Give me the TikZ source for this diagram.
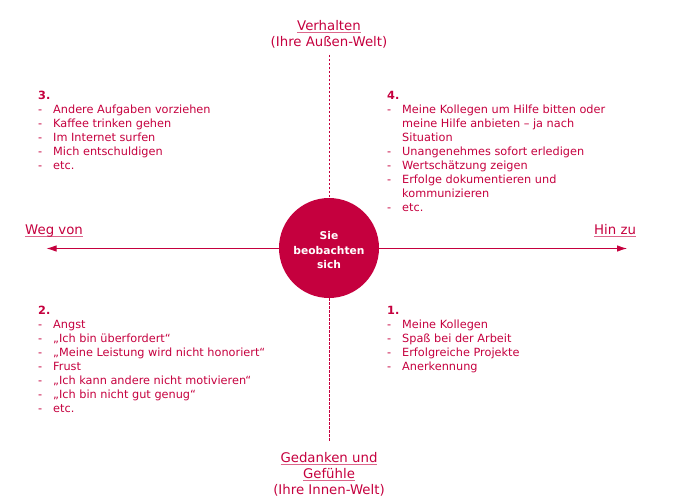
\documentclass[tikz,border=0pt]{standalone}
\usepackage{fontspec}
\setmainfont{DejaVu Sans}
\usetikzlibrary{arrows.meta}
\definecolor{crim}{RGB}{197,0,62}
\newcommand\ulx[1]{\setbox0\hbox{#1}\rlap{\color{crim!60}\rule[-2.2bp]{\wd0}{0.9bp}}\box0}
\newcommand\itm[1]{\makebox[15bp][l]{-}#1}
\newcommand\indt[1]{\hspace*{15bp}#1}
\newcommand\bodyfont{\fontsize{11.3bp}{14bp}\selectfont}
\newcommand\headfont{\fontsize{13.3bp}{16bp}\selectfont}
\tikzset{
  quad/.style={anchor=base west, font=\bodyfont, inner sep=0pt, text=crim},
  head/.style={anchor=base, font=\headfont, inner sep=0pt, text=crim},
  axisline/.style={draw=crim, line width=0.8bp},
  dashline/.style={draw=crim, line width=0.9bp, dash pattern=on 2.5bp off 1.5bp},
  tip/.style={-{Latex[length=10bp,width=6.5bp]}},
}
\begin{document}
\begin{tikzpicture}[x=1bp,y=-1bp]
\useasboundingbox (0,0) rectangle (688,504);
% centre
\node[circle, fill=crim, minimum size=100bp, inner sep=0pt] (c) at (329,248) {};
\node[align=center, text=white, inner sep=0pt,
      font=\fontsize{10.7bp}{14.5bp}\selectfont\bfseries] (ct) at (329,250.5) {Sie\\beobachten\\sich};
% axes
\coordinate (vt) at (329,55);
\coordinate (vb) at (329,442);
\coordinate (hl) at (46.5,248.5);
\coordinate (hr) at (627,248.5);
\draw[dashline] (vt) -- (c.north);
\draw[dashline] (c.south) -- (vb);
\draw[axisline, tip, fill=crim] (c.west |- hl) -- (hl);
\draw[axisline, tip, fill=crim] (c.east |- hr) -- (hr);
% headings
\node[head] (top) at (329,30.7) {\begin{tabular}[t]{@{}c@{}}\ulx{Verhalten}\\(Ihre Außen-Welt)\end{tabular}};
\node[head] (bot) at (329,462.7) {\begin{tabular}[t]{@{}c@{}}\ulx{Gedanken und}\\\ulx{Gefühle}\\(Ihre Innen-Welt)\end{tabular}};
\node[quad, font=\headfont] (weg) at (25,235) {\ulx{Weg von}};
\node[quad, font=\headfont] (hin) at (594,235) {\ulx{Hin zu}};
% quadrants
\node[quad] (q3) at (38,99.5) {\begin{tabular}[t]{@{}l@{}}
\textbf{3.}\\
\itm{Andere Aufgaben vorziehen}\\
\itm{Kaffee trinken gehen}\\
\itm{Im Internet surfen}\\
\itm{Mich entschuldigen}\\
\itm{etc.}
\end{tabular}};
\node[quad] (q4) at (387,99.5) {\begin{tabular}[t]{@{}l@{}}
\textbf{4.}\\
\itm{Meine Kollegen um Hilfe bitten oder}\\
\indt{meine Hilfe anbieten – ja nach}\\
\indt{Situation}\\
\itm{Unangenehmes sofort erledigen}\\
\itm{Wertschätzung zeigen}\\
\itm{Erfolge dokumentieren und}\\
\indt{kommunizieren}\\
\itm{etc.}
\end{tabular}};
\node[quad] (q2) at (38,314.7) {\begin{tabular}[t]{@{}l@{}}
\textbf{2.}\\
\itm{Angst}\\
\itm{„Ich bin überfordert“}\\
\itm{„Meine Leistung wird nicht honoriert“}\\
\itm{Frust}\\
\itm{„Ich kann andere nicht motivieren“}\\
\itm{„Ich bin nicht gut genug“}\\
\itm{etc.}
\end{tabular}};
\node[quad] (q1) at (387,314.7) {\begin{tabular}[t]{@{}l@{}}
\textbf{1.}\\
\itm{Meine Kollegen}\\
\itm{Spaß bei der Arbeit}\\
\itm{Erfolgreiche Projekte}\\
\itm{Anerkennung}
\end{tabular}};
\end{tikzpicture}
\end{document}
